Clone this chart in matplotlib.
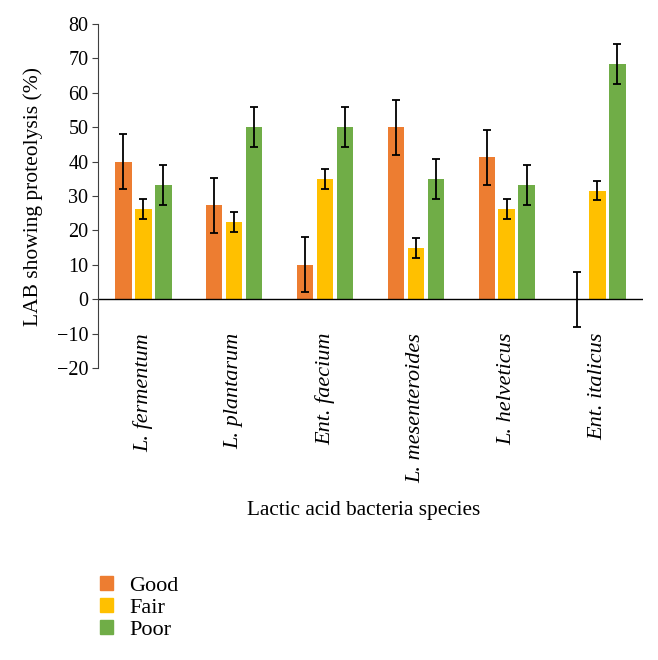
import numpy as np
import matplotlib.pyplot as plt
from matplotlib.patches import Patch

# datos
especies = ["L. fermentum", "L. plantarum", "Ent. faecium",
            "L. mesenteroides", "L. helveticus", "Ent. italicus"]
good = [40.0, 27.3, 10.0, 50.0, 41.2, 0.0]
fair = [26.3, 22.6, 35.0, 15.0, 26.3, 31.6]
poor = [33.3, 50.0, 50.0, 35.0, 33.3, 68.4]
err_good = [8, 8, 8, 8, 8, 8]
err_fair = [2.9, 2.9, 2.9, 2.9, 2.9, 2.9]
err_poor = [5.8, 5.8, 5.8, 5.8, 5.8, 5.8]
series = ["Good", "Fair", "Poor"]
colores = ["#ED7D31", "#FFC000", "#70AD47"]

plt.rcParams['font.family'] = ['Liberation Serif', 'DejaVu Serif']

fig = plt.figure(figsize=(6.58, 6.60), dpi=100)
ax = fig.add_axes([0.149, 0.442, 0.828, 0.522])

x = np.arange(len(especies))
ancho = 0.18
paso = 0.22
datos = [(good, err_good), (fair, err_fair), (poor, err_poor)]
for i, (vals, errs) in enumerate(datos):
    ax.bar(x + (i - 1) * paso, vals, ancho, color=colores[i],
           yerr=errs, error_kw=dict(ecolor="black", elinewidth=1.3,
                                    capsize=3, capthick=1.3))

ax.set_xlim(-0.5, len(especies) - 0.5)
ax.set_ylim(-20, 80)
ax.set_yticks(np.arange(-20, 81, 10))
ax.axhline(0, color="black", lw=1)

for s in ["top", "right", "bottom"]:
    ax.spines[s].set_visible(False)
ax.spines["left"].set_color("#404040")

ax.set_xticks(x)
ax.set_xticklabels(especies, rotation=90, style="italic", fontsize=16)
ax.tick_params(axis="x", length=0, pad=-25.5)
ax.tick_params(axis="y", labelsize=14.5, length=4, color="#404040", pad=3)
for lab in ax.get_xticklabels():
    lab.set_verticalalignment("top")

ax.set_ylabel("LAB showing proteolysis (%)", fontsize=15.5, labelpad=10)
fig.text(0.552, 0.227, "Lactic acid bacteria species", ha="center",
         va="center", fontsize=15.3)

handles = [Patch(color=c, label=l) for c, l in zip(colores, series)]
fig.legend(handles=handles, loc="upper left", bbox_to_anchor=(0.121, 0.158),
           frameon=False, fontsize=16, handlelength=0.6, handleheight=0.6,
           handletextpad=0.75, labelspacing=0.1)

plt.savefig("out.png", dpi=100)
